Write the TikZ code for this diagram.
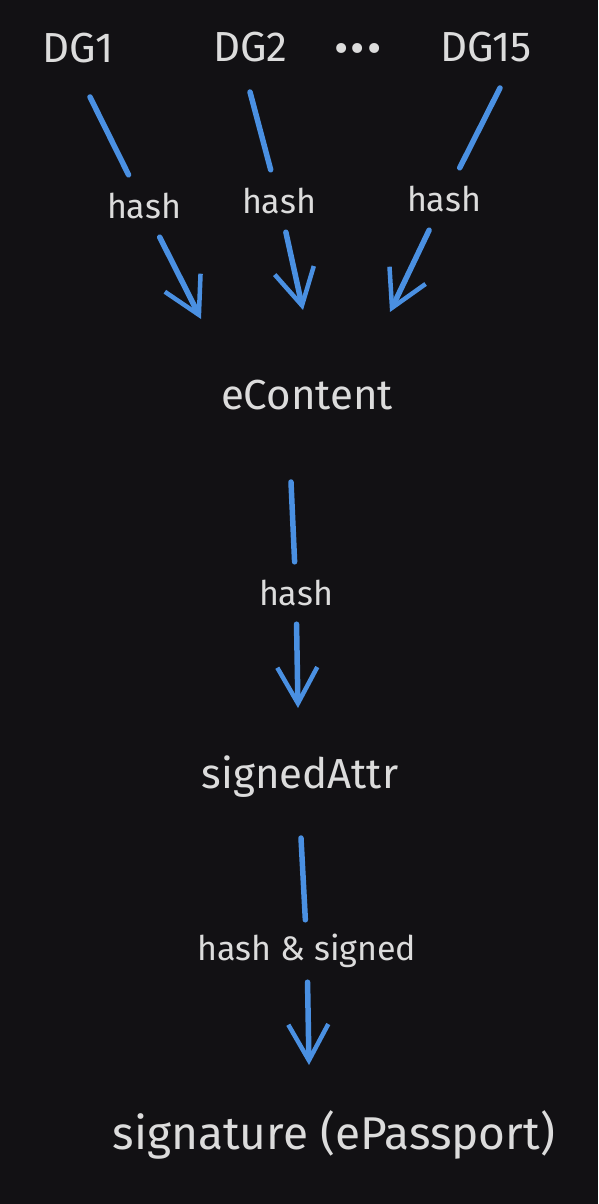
\documentclass[tikz,border=0pt]{standalone}
\usepackage{fontspec}
\setmainfont{Fira Sans}
\usetikzlibrary{arrows.meta}
\definecolor{bgdark}{HTML}{121114}
\definecolor{ink}{HTML}{DCDCDC}
\definecolor{wireblue}{HTML}{4A90E2}
\tikzset{
	title/.style={text=ink,font=\fontsize{42}{42}\selectfont,inner sep=0pt},
	hashlbl/.style={text=ink,font=\fontsize{34}{34}\selectfont,inner sep=0pt,minimum height=62pt},
	wire/.style={draw=wireblue,line width=5.5pt,line cap=round},
	tip/.style={-{Straight Barb[length=36pt,width=40pt,line width=4.5pt]}}
}

\begin{document}
\begin{tikzpicture}[line cap=round,line join=round,x=1pt,y=-1pt]
		\fill[bgdark] (0,0) rectangle (598,1204);
		\useasboundingbox (0,0) rectangle (598,1204);
		% data groups
		\node[title] (dg1) at (78,48) {DG1};
		\node[title] (dg2) at (250,47) {DG2};
		\node[title,font=\fontsize{44}{44}\selectfont] (dots) at (358,54) {•\hspace{2pt}•\hspace{2pt}•};
		\node[title] (dg15) at (486,47) {DG15};
		% hashes into eContent
		\coordinate (a1) at (90,97);
		\node[hashlbl] (h1) at (144,206) {hash};
		\coordinate (b1) at (201,319);
		\coordinate (a2) at (250,92);
		\node[hashlbl] (h2) at (279,201) {hash};
		\coordinate (b2) at (303,310);
		\coordinate (a3) at (500,88);
		\node[hashlbl] (h3) at (444,199) {hash};
		\coordinate (b3) at (390,312);
		\draw[wire] (a1) -- (h1);
		\draw[wire,tip] (h1) -- (b1);
		\draw[wire] (a2) -- (h2);
		\draw[wire,tip] (h2) -- (b2);
		\draw[wire] (a3) -- (h3);
		\draw[wire,tip] (h3) -- (b3);
		\node[title] (econtent) at (307,395) {eContent};
		% eContent -> signedAttr
		\coordinate (a4) at (291,482);
		\node[hashlbl] (h4) at (296,593) {hash};
		\coordinate (b4) at (298,708);
		\draw[wire] (a4) -- (h4);
		\draw[wire,tip] (h4) -- (b4);
		\node[title] (signedattr) at (300,777) {signedAttr};
		% signedAttr -> signature
		\coordinate (a5) at (301,838);
		\node[hashlbl] (h5) at (307,951) {hash \& signed};
		\coordinate (b5) at (309,1065);
		\draw[wire] (a5) -- (h5);
		\draw[wire,tip] (h5) -- (b5);
		\node[title,font=\fontsize{46}{46}\selectfont] (sig) at (334,1135) {signature (ePassport)};
	\end{tikzpicture}
\end{document}
